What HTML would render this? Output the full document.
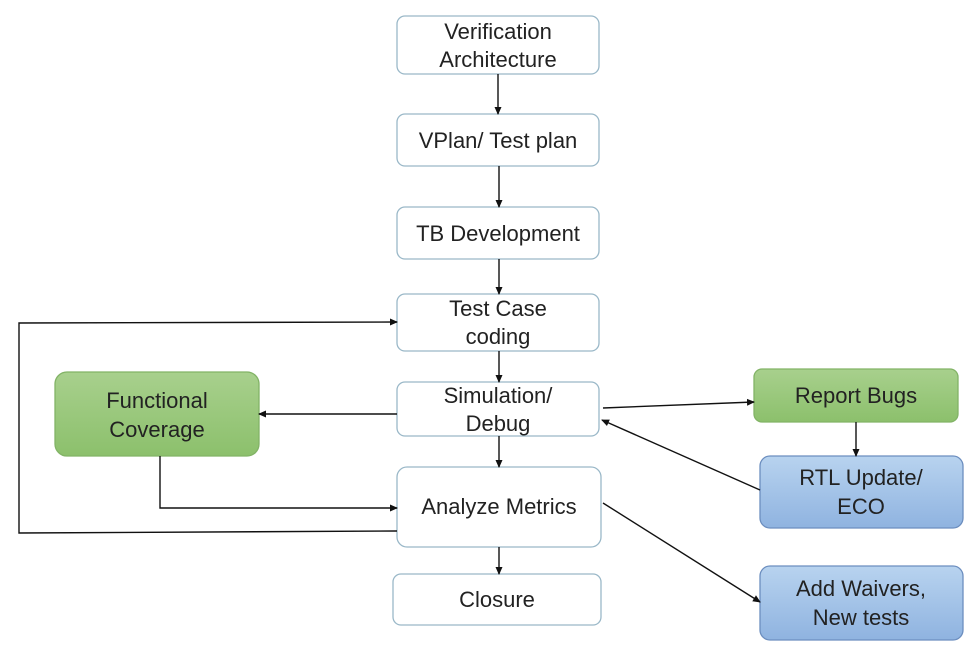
<!DOCTYPE html>
<html><head><meta charset="utf-8"><style>
html,body{margin:0;padding:0;background:#fff;width:977px;height:651px;overflow:hidden}
text{font-family:"Liberation Sans",Arial,sans-serif;font-size:22px;fill:#222;text-anchor:middle}
</style></head><body>
<svg width="977" height="651" viewBox="0 0 977 651" xmlns="http://www.w3.org/2000/svg">
<defs>
<marker id="a" markerWidth="8" markerHeight="8" refX="7" refY="4" orient="auto" markerUnits="userSpaceOnUse"><path d="M0,0.5 L8,4 L0,7.5z" fill="#111"/></marker>
<linearGradient id="g" x1="0" y1="0" x2="0" y2="1"><stop offset="0" stop-color="#a8d08d"/><stop offset="1" stop-color="#8cc06c"/></linearGradient>
<linearGradient id="b" x1="0" y1="0" x2="0" y2="1"><stop offset="0" stop-color="#b8d3ef"/><stop offset="1" stop-color="#8fb3e0"/></linearGradient>
</defs>
<g fill="#fff" stroke="#9ab8c8" stroke-width="1.3">
<rect x="397" y="16" width="202" height="58" rx="8"/>
<rect x="397" y="114" width="202" height="52" rx="8"/>
<rect x="397" y="207" width="202" height="52" rx="8"/>
<rect x="397" y="294" width="202" height="57" rx="8"/>
<rect x="397" y="382" width="202" height="54" rx="8"/>
<rect x="397" y="467" width="204" height="80" rx="10"/>
<rect x="393" y="574" width="208" height="51" rx="8"/>
</g>
<rect x="55" y="372" width="204" height="84" rx="12" fill="url(#g)" stroke="#82b366" stroke-width="1.3"/>
<rect x="754" y="369" width="204" height="53" rx="8" fill="url(#g)" stroke="#82b366" stroke-width="1.3"/>
<rect x="760" y="456" width="203" height="72" rx="10" fill="url(#b)" stroke="#6c8ebf" stroke-width="1.3"/>
<rect x="760" y="566" width="203" height="74" rx="10" fill="url(#b)" stroke="#6c8ebf" stroke-width="1.3"/>
<g stroke="#111" stroke-width="1.4" fill="none" marker-end="url(#a)">
<line x1="498" y1="74" x2="498" y2="114"/>
<line x1="499" y1="166" x2="499" y2="207"/>
<line x1="499" y1="259" x2="499" y2="294"/>
<line x1="499" y1="351" x2="499" y2="382"/>
<line x1="499" y1="436" x2="499" y2="467"/>
<line x1="499" y1="547" x2="499" y2="574"/>
<line x1="397" y1="414" x2="259" y2="414"/>
<polyline points="160,456 160,508 397,508"/>
<polyline points="397,531 19,533 19,323 397,322"/>
<line x1="603" y1="408" x2="754" y2="402"/>
<line x1="856" y1="422" x2="856" y2="456"/>
<line x1="760" y1="490" x2="602" y2="420"/>
<line x1="603" y1="503" x2="760" y2="602"/>
</g>
<text x="498" y="39">Verification</text>
<text x="498" y="67">Architecture</text>
<text x="498" y="148">VPlan/ Test plan</text>
<text x="498" y="241">TB Development</text>
<text x="498" y="316">Test Case</text>
<text x="498" y="344">coding</text>
<text x="498" y="403">Simulation/</text>
<text x="498" y="431">Debug</text>
<text x="499" y="514">Analyze Metrics</text>
<text x="497" y="607">Closure</text>
<text x="157" y="408">Functional</text>
<text x="157" y="437">Coverage</text>
<text x="856" y="403">Report Bugs</text>
<text x="861" y="485">RTL Update/</text>
<text x="861" y="514">ECO</text>
<text x="861" y="596">Add Waivers,</text>
<text x="861" y="625">New tests</text>
</svg>
</body></html>
